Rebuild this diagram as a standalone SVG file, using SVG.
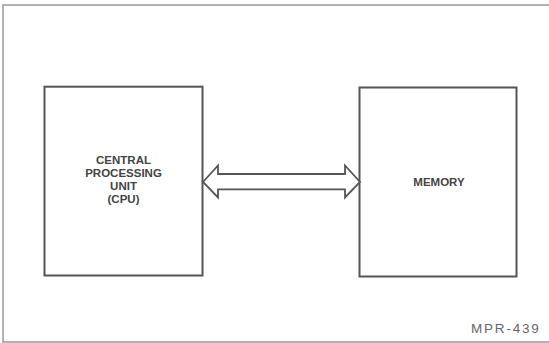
<svg xmlns="http://www.w3.org/2000/svg" width="549" height="343" viewBox="0 0 549 343">
<style>
.box{fill:none;stroke:#555;stroke-width:2}
.lbl{font-family:"Liberation Sans",Arial,sans-serif;font-weight:bold;font-size:11.5px;fill:#444;text-anchor:middle}
.frame{fill:none;stroke:#999;stroke-width:1.5}
.tag{font-family:"Liberation Sans",Arial,sans-serif;font-size:13.5px;fill:#666;letter-spacing:1.8px}
</style>
<rect width="549" height="343" fill="#fff"/>
<polyline class="frame" points="551,5 3,5 3,342 551,342"/>
<g id="cpu">
<rect class="box" x="44.5" y="86.7" width="158" height="188.8"/>
<text class="lbl" x="123.5" y="164">CENTRAL</text>
<text class="lbl" x="123.5" y="177.3">PROCESSING</text>
<text class="lbl" x="123.5" y="190">UNIT</text>
<text class="lbl" x="123.5" y="203">(CPU)</text>
</g>
<g id="memory">
<rect class="box" x="359.5" y="87.5" width="157" height="189"/>
<text class="lbl" x="439" y="186">MEMORY</text>
</g>
<g id="connectors">
<polygon points="203,182 218,165.5 218,174 345,174 345,165.5 360,182 345,197.5 345,189.3 218,189.3 218,197.5" fill="#fff" stroke="#555" stroke-width="1.8" stroke-linejoin="miter"/>
</g>
<text class="tag" x="471" y="332.5">MPR-439</text>
</svg>
